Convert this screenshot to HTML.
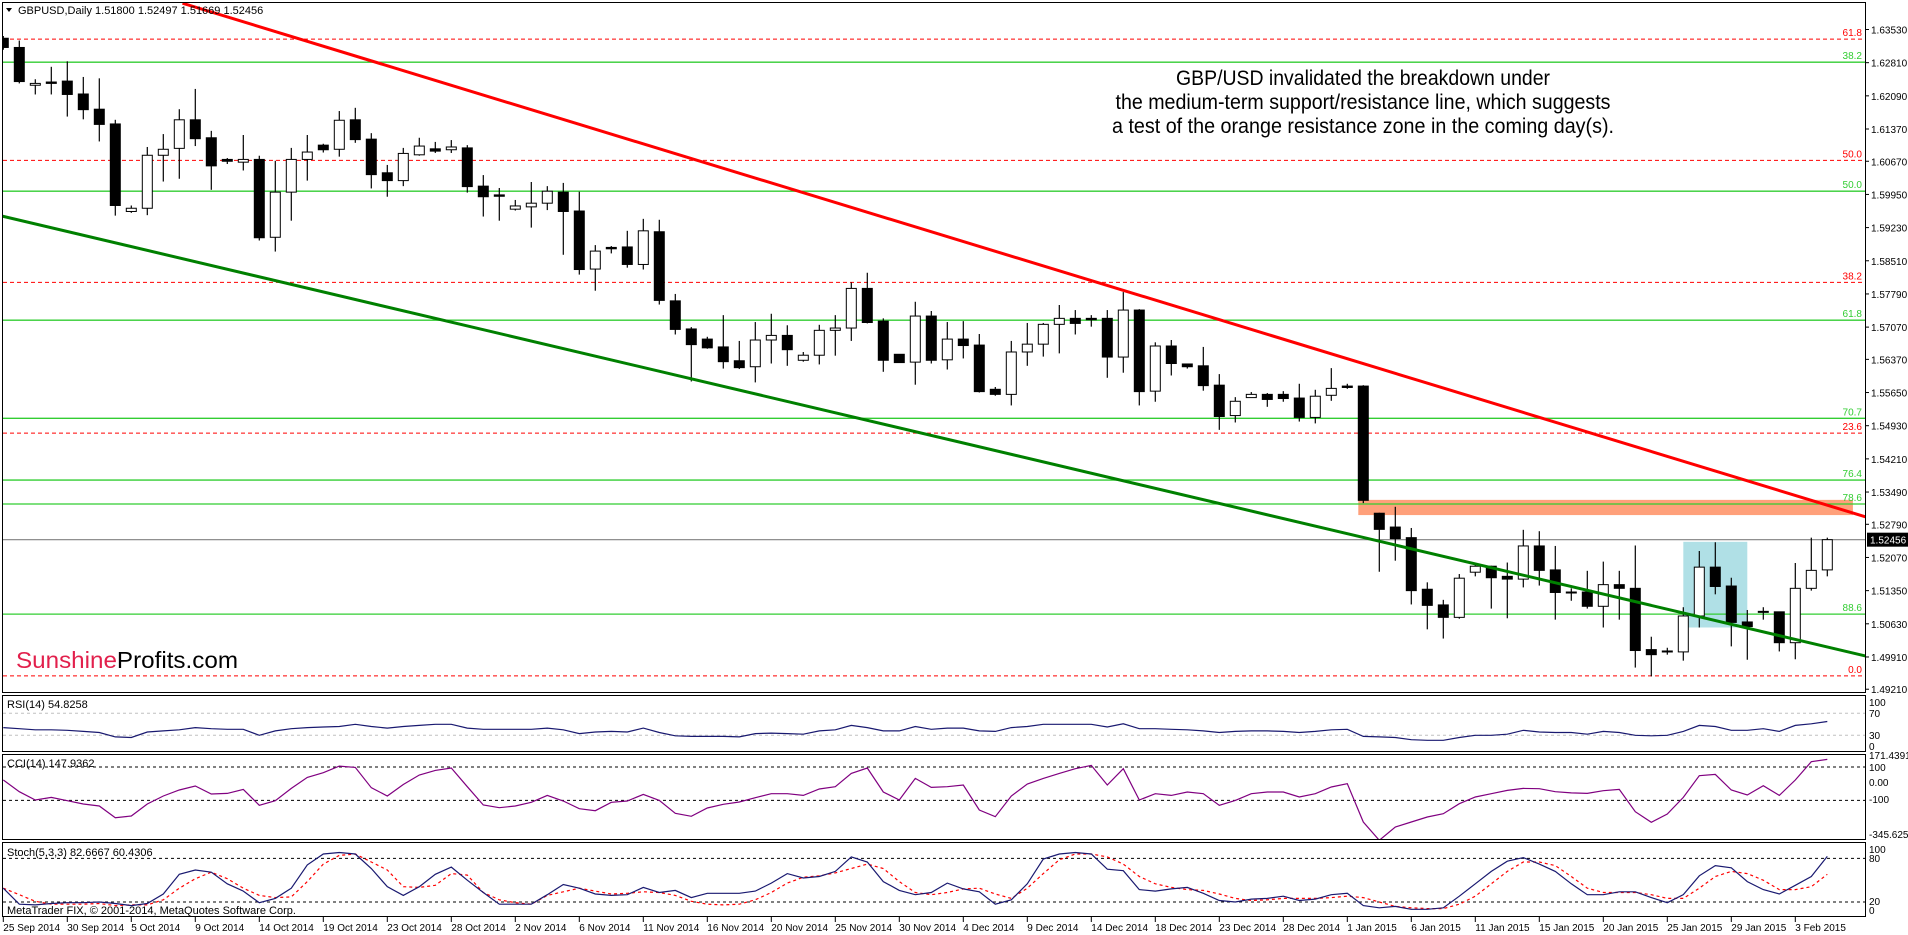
<!DOCTYPE html>
<html><head><meta charset="utf-8"><title>GBPUSD Daily</title>
<style>
html,body{margin:0;padding:0;background:#fff;}
svg{display:block;font-family:"Liberation Sans",Arial,sans-serif;}
</style></head>
<body>
<svg id="chart" xmlns="http://www.w3.org/2000/svg" width="1908" height="935" viewBox="0 0 1908 935">
<defs>
<clipPath id="mainClip"><rect x="3" y="3" width="1862" height="689"/></clipPath>
<clipPath id="rsiClip"><rect x="3" y="696" width="1862" height="55"/></clipPath>
<clipPath id="cciClip"><rect x="3" y="755" width="1862" height="84"/></clipPath>
<clipPath id="stoClip"><rect x="3" y="843" width="1862" height="73"/></clipPath>
</defs>
<rect x="0" y="0" width="1908" height="935" fill="#fff"/>
<g id="mainPanel"></g>
<g id="rsiPanel"></g>
<g id="cciPanel"></g>
<g id="stoPanel"></g>
<g id="axes"></g>
</svg>
<script>
// ---- data ----
const opens=[1.6334,1.6314,1.6232,1.6239,1.6241,1.6213,1.6180,1.6148,1.5958,1.5965,1.6080,1.6095,1.6157,1.6118,1.6071,1.6065,1.6071,1.5902,1.6000,1.6071,1.6102,1.6093,1.6157,1.6115,1.6042,1.6025,1.6081,1.6094,1.6092,1.6096,1.6013,1.5994,1.5963,1.5968,1.5976,1.6000,1.5959,1.5833,1.5880,1.5881,1.5843,1.5914,1.5764,1.5703,1.5681,1.5664,1.5634,1.5621,1.5679,1.5689,1.5635,1.5646,1.5700,1.5705,1.5791,1.5720,1.5648,1.5631,1.5731,1.5636,1.5681,1.5668,1.5572,1.5561,1.5653,1.5670,1.5713,1.5726,1.5726,1.5726,1.5642,1.5744,1.5568,1.5666,1.5627,1.5623,1.5581,1.5515,1.5554,1.5561,1.5561,1.5553,1.5511,1.5559,1.5579,1.5579,1.5303,1.5273,1.5250,1.5138,1.5104,1.5077,1.5175,1.5188,1.5166,1.5160,1.5232,1.5180,1.5132,1.5132,1.5101,1.5148,1.5140,1.5007,1.5004,1.5002,1.5080,1.5186,1.5145,1.5067,1.5090,1.5089,1.5022,1.5140,1.5180];
const highs=[1.6339,1.6329,1.6245,1.6272,1.6284,1.6250,1.6247,1.6157,1.5971,1.6098,1.6126,1.6180,1.6224,1.6133,1.6074,1.6124,1.6079,1.6068,1.6096,1.6124,1.6105,1.6176,1.6183,1.6128,1.6059,1.6096,1.6118,1.6109,1.6113,1.6102,1.6037,1.6009,1.5983,1.6022,1.6013,1.6020,1.6001,1.5885,1.5883,1.5916,1.5942,1.5940,1.5779,1.5707,1.5686,1.5733,1.5677,1.5718,1.5736,1.5711,1.5653,1.5712,1.5733,1.5804,1.5825,1.5726,1.5648,1.5762,1.5742,1.5718,1.5720,1.5692,1.5577,1.5677,1.5716,1.5716,1.5755,1.5744,1.5733,1.5744,1.5783,1.5746,1.5674,1.5679,1.5627,1.5664,1.5605,1.5555,1.5566,1.5564,1.5568,1.5584,1.5571,1.5618,1.5584,1.5581,1.5304,1.5317,1.5271,1.5153,1.5115,1.5171,1.5193,1.5189,1.5196,1.5267,1.5264,1.5232,1.5140,1.5178,1.5198,1.5178,1.5233,1.5035,1.5011,1.5099,1.5221,1.5240,1.5163,1.5093,1.5099,1.5089,1.5195,1.5250,1.5250];
const lows=[1.6309,1.6236,1.6212,1.6212,1.6164,1.6158,1.6110,1.5949,1.5955,1.5950,1.6023,1.6029,1.6100,1.6005,1.6061,1.6047,1.5895,1.5871,1.5938,1.6025,1.6086,1.6077,1.6107,1.6008,1.5990,1.6013,1.6079,1.6085,1.6085,1.5999,1.5947,1.5938,1.5960,1.5923,1.5961,1.5864,1.5821,1.5786,1.5867,1.5836,1.5832,1.5756,1.5691,1.5589,1.5660,1.5617,1.5616,1.5587,1.5628,1.5623,1.5632,1.5626,1.5645,1.5677,1.5715,1.5610,1.5630,1.5582,1.5628,1.5615,1.5639,1.5565,1.5558,1.5537,1.5623,1.5643,1.5650,1.5691,1.5708,1.5597,1.5608,1.5537,1.5545,1.5602,1.5617,1.5569,1.5484,1.5500,1.5554,1.5534,1.5545,1.5502,1.5498,1.5547,1.5573,1.5325,1.5176,1.5200,1.5105,1.5051,1.5031,1.5074,1.5166,1.5096,1.5075,1.5142,1.5146,1.5072,1.5113,1.5096,1.5055,1.5072,1.4968,1.4949,1.4996,1.4983,1.5055,1.5127,1.5014,1.4985,1.5072,1.5003,1.4986,1.5135,1.5166];
const closes=[1.6314,1.6240,1.6236,1.6236,1.6212,1.6179,1.6147,1.5971,1.5965,1.6080,1.6093,1.6157,1.6116,1.6057,1.6067,1.6071,1.5901,1.6000,1.6071,1.6087,1.6092,1.6156,1.6114,1.6038,1.6025,1.6084,1.6100,1.6089,1.6098,1.6012,1.5990,1.5991,1.5970,1.5976,1.6002,1.5958,1.5832,1.5872,1.5877,1.5843,1.5916,1.5765,1.5702,1.5669,1.5662,1.5632,1.5619,1.5679,1.5689,1.5658,1.5646,1.5700,1.5705,1.5791,1.5717,1.5635,1.5630,1.5731,1.5635,1.5681,1.5667,1.5567,1.5561,1.5653,1.5670,1.5713,1.5726,1.5715,1.5723,1.5642,1.5744,1.5567,1.5666,1.5628,1.5621,1.5580,1.5513,1.5546,1.5561,1.5550,1.5552,1.5511,1.5557,1.5574,1.5576,1.5331,1.5268,1.5248,1.5135,1.5103,1.5077,1.5162,1.5188,1.5163,1.5160,1.5232,1.5179,1.5131,1.5131,1.5101,1.5148,1.5140,1.5005,1.4996,1.5002,1.5080,1.5186,1.5144,1.5066,1.5057,1.5090,1.5022,1.5140,1.5179,1.52456];
const rsiValues=[44,42,40,40,39,37,35,27,26,36,38,40,44,42,41,41,30,38,42,44,45,46,50,46,43,46,48,50,50,43,41,41,41,41,43,40,33,36,37,36,43,35,29,28,28,28,27,33,34,33,32,38,40,48,44,38,38,46,41,43,43,38,37,44,46,50,50,50,50,45,51,42,42,41,40,38,35,37,38,38,37,35,37,40,41,28,27,26,22,21,21,26,30,30,32,39,36,35,35,32,37,35,30,29,30,37,48,46,39,39,42,37,48,51,55];
const cciValues=[22,-48,-98,-82,-102,-122,-134,-204,-194,-122,-74,-38,-14,-62,-58,-34,-130,-102,-28,38,66,106,98,-24,-74,-5,52,80,94,-18,-128,-144,-134,-112,-70,-104,-150,-162,-112,-104,-64,-100,-178,-196,-146,-124,-110,-84,-60,-60,-70,-32,-18,62,94,-50,-98,32,-22,-18,-8,-158,-198,-74,-2,32,62,90,110,-8,90,-98,-60,-70,-50,-60,-130,-100,-60,-50,-50,-80,-60,-20,0,-230,-340,-260,-230,-200,-180,-120,-80,-60,-40,-28,-30,-48,-55,-58,-42,-34,-168,-232,-182,-82,48,56,-38,-68,-12,-70,22,132,146];
const stochK=[39,17,16,18,19,19,20,18,15,18,31,58,64,61,45,35,19,25,39,71,86,88,86,66,41,29,41,58,68,50,33,17,17,17,30,44,39,31,29,30,40,33,36,26,32,32,32,35,46,59,53,55,62,82,75,48,36,30,33,46,38,34,17,23,45,79,86,88,86,65,63,37,35,38,40,32,22,20,24,25,28,22,24,30,32,15,12,14,10,10,12,28,45,62,76,81,72,62,45,30,30,34,34,26,19,30,56,70,67,48,37,31,43,55,82.7];
const stochD=[39,30,21,17,17,17,18,15,16,16,23,39,52,61,52,39,29,26,27,48,72,84,86,75,64,41,40,43,59,57,33,23,19,17,29,34,39,35,31,32,34,33,29,21,17,16,17,23,33,46,54,56,60,66,72,66,48,33,30,33,38,39,31,25,39,59,78,86,86,82,72,55,45,40,37,36,31,25,22,23,25,25,25,26,28,26,20,14,12,11,11,17,28,45,62,75,75,70,55,39,33,33,33,30,25,25,39,55,62,59,50,37,37,41,58];
const dateLabels=["25 Sep 2014","30 Sep 2014","5 Oct 2014","9 Oct 2014","14 Oct 2014","19 Oct 2014","23 Oct 2014","28 Oct 2014","2 Nov 2014","6 Nov 2014","11 Nov 2014","16 Nov 2014","20 Nov 2014","25 Nov 2014","30 Nov 2014","4 Dec 2014","9 Dec 2014","14 Dec 2014","18 Dec 2014","23 Dec 2014","28 Dec 2014","1 Jan 2015","6 Jan 2015","11 Jan 2015","15 Jan 2015","20 Jan 2015","25 Jan 2015","29 Jan 2015","3 Feb 2015"];
const priceTicks=[1.63530,1.62810,1.62090,1.61370,1.60670,1.59950,1.59230,1.58510,1.57790,1.57070,1.56370,1.55650,1.54930,1.54210,1.53490,1.52790,1.52070,1.51350,1.50630,1.49910,1.49210];
const fibRedLevels=[1.6332,1.6069,1.5804,1.5477,1.4950];
const fibRedLabels=["61.8","50.0","38.2","23.6","0.0"];
const fibGreenLevels=[1.6282,1.6002,1.5722,1.5509,1.5375,1.5323,1.5084];
const fibGreenLabels=["38.2","50.0","61.8","70.7","76.4","78.6","88.6"];
const resistanceLine=[[11.2,1.6410],[116.4,1.5295]];
const supportLine=[[-0.2,1.5949],[116.4,1.4993]];
const orangeZone=[1.5332,1.5299,85,115.6];
const blueBox=[1.5241,1.5055,105,109];
const lastPrice=1.52456;

// ---- scales ----
const xOf=i=>3.3+16*i;
const yOf=p=>29.5+(1.6353-p)*4607;
const yRsi=v=>735.3-(v-30)*0.55;
const yCci=v=>783.7-v*0.1665;
const ySto=v=>902-(v-20)*0.728;
const NS="http://www.w3.org/2000/svg";
function mk(tag,attrs,parent){const e=document.createElementNS(NS,tag);for(const k in attrs)e.setAttribute(k,attrs[k]);parent.appendChild(e);return e;}

const main=document.getElementById('mainPanel');
const mg=mk('g',{'clip-path':'url(#mainClip)'},main);

let z=mk('rect',{x:xOf(orangeZone[2])-5,y:yOf(orangeZone[0]),width:xOf(orangeZone[3])-xOf(orangeZone[2])+5,height:yOf(orangeZone[1])-yOf(orangeZone[0]),fill:'#FFA07A'},mg);


let bb=mk('rect',{x:xOf(blueBox[2]),y:yOf(blueBox[0]),width:xOf(blueBox[3])-xOf(blueBox[2]),height:yOf(blueBox[1])-yOf(blueBox[0]),fill:'#B0E0E6'},mg);



fibRedLevels.forEach((p,k)=>{
  const l=mk('line',{x1:3,x2:1865,y1:yOf(p),y2:yOf(p),stroke:'#FF0000','stroke-width':1,'stroke-dasharray':'4,3'},mg);
  
  
  const t=mk('text',{x:1862,y:yOf(p)-3,'text-anchor':'end','font-size':10,fill:'#FF0000'},mg);
  t.textContent=fibRedLabels[k];
  
  
});
fibGreenLevels.forEach((p,k)=>{
  const l=mk('line',{x1:3,x2:1865,y1:yOf(p),y2:yOf(p),stroke:'#32CD32','stroke-width':1.3},mg);
  
  
  const t=mk('text',{x:1862,y:yOf(p)-3,'text-anchor':'end','font-size':10,fill:'#32CD32'},mg);
  t.textContent=fibGreenLabels[k];
  
  
});
let cp=mk('line',{x1:3,x2:1865,y1:yOf(lastPrice),y2:yOf(lastPrice),stroke:'#808080','stroke-width':1.2},mg);



for(let i=0;i<opens.length;i++){
  const x=xOf(i),o=opens[i],c=closes[i];
  const g=mk('g',{},mg);
  
  
  mk('line',{x1:x,x2:x,y1:yOf(highs[i]),y2:yOf(lows[i]),stroke:'#000','stroke-width':1.2},g);
  const top=yOf(Math.max(o,c)),bot=yOf(Math.min(o,c));
  const h=Math.max(bot-top,1);
  mk('rect',{x:x-5,y:top,width:10,height:h,fill:c>=o?'#fff':'#000',stroke:'#000','stroke-width':1},g);
}

let rl=mk('line',{x1:xOf(resistanceLine[0][0]),y1:yOf(resistanceLine[0][1]),x2:xOf(resistanceLine[1][0]),y2:yOf(resistanceLine[1][1]),stroke:'#FF0000','stroke-width':3},mg);


let sl=mk('line',{x1:xOf(supportLine[0][0]),y1:yOf(supportLine[0][1]),x2:xOf(supportLine[1][0]),y2:yOf(supportLine[1][1]),stroke:'#008000','stroke-width':3},mg);



const ann=["GBP/USD invalidated the breakdown under","the medium-term support/resistance line, which suggests","a test of the orange resistance zone in the coming day(s)."];
const annY=[85,109,133], annW=[374,495,502];
ann.forEach((s,k)=>{
  const t=mk('text',{x:1363,y:annY[k],'text-anchor':'middle','font-size':21,fill:'#000',textLength:annW[k],lengthAdjust:'spacingAndGlyphs'},main);
  t.textContent=s;
  
  
});

let tri=mk('path',{d:'M6,8 L12,8 L9,12 Z',fill:'#000'},main);


let tt=mk('text',{x:18,y:14,'font-size':11,fill:'#000'},main);
tt.textContent='GBPUSD,Daily  1.51800 1.52497 1.51669 1.52456';


let logo=mk('text',{x:16,y:668,'font-size':23,textLength:222,lengthAdjust:'spacingAndGlyphs'},main);


const s1=mk('tspan',{fill:'#E2204C'},logo);s1.textContent='Sunshine';
const s2=mk('tspan',{fill:'#000'},logo);s2.textContent='Profits.com';

function polyline(vals,yf,parent,stroke,dash,name,clip){
  const g=mk('g',{'clip-path':clip},parent);
  const pts=vals.map((v,i)=>xOf(i).toFixed(1)+','+yf(v).toFixed(1)).join(' ');
  const p=mk('polyline',{points:pts,fill:'none',stroke:stroke,'stroke-width':1.2},g);
  if(dash)p.setAttribute('stroke-dasharray',dash);
  
  
}
function hline(y,parent,stroke,name){
  const l=mk('line',{x1:3,x2:1865,y1:y,y2:y,stroke:stroke,'stroke-width':1,'stroke-dasharray':'3,3'},parent);
  
  
}
function label(txt,x,y,parent,name,anchor,size){
  const t=mk('text',{x:x,y:y,'font-size':size||10,fill:'#000','text-anchor':anchor||'start'},parent);
  t.textContent=txt;
  
  
  return t;
}
const rsiP=document.getElementById('rsiPanel');
hline(yRsi(70),rsiP,'#C0C0C0','rsi-70-level');
hline(yRsi(30),rsiP,'#C0C0C0','rsi-30-level');
polyline(rsiValues,yRsi,rsiP,'#191970',null,'rsi-line','url(#rsiClip)');
label('RSI(14) 54.8258',7,708,rsiP,'rsi-title','start',11);

const cciP=document.getElementById('cciPanel');
hline(yCci(100),cciP,'#000','cci-100-level');
hline(yCci(-100),cciP,'#000','cci-minus100-level');
polyline(cciValues,yCci,cciP,'#800080',null,'cci-line','url(#cciClip)');
label('CCI(14) 147.9362',7,767,cciP,'cci-title','start',11);

const stoP=document.getElementById('stoPanel');
hline(ySto(80),stoP,'#000','stoch-80-level');
hline(ySto(20),stoP,'#000','stoch-20-level');
polyline(stochD,ySto,stoP,'#FF0000','3,3','stoch-signal-line','url(#stoClip)');
polyline(stochK,ySto,stoP,'#191970',null,'stoch-main-line','url(#stoClip)');
label('Stoch(5,3,3) 82.6667 60.4306',7,856,stoP,'stoch-title','start',11);
label('MetaTrader FIX, © 2001-2014, MetaQuotes Software Corp.',7,914,stoP,'copyright-note','start',11);

const ax=document.getElementById('axes');
[[2.5,2.5,1863,690,'price-panel-frame'],[2.5,695.5,1863,56,'rsi-panel-frame'],[2.5,754.5,1863,85,'cci-panel-frame'],[2.5,842.5,1863,74,'stoch-panel-frame']].forEach(r=>{
  const f=mk('rect',{x:r[0],y:r[1],width:r[2],height:r[3],fill:'none',stroke:'#000','stroke-width':1},ax);
  
  
});
priceTicks.forEach(p=>{
  const y=yOf(p);
  mk('line',{x1:1866,x2:1869,y1:y,y2:y,stroke:'#000'},ax);
  label(p.toFixed(5),1871,y+4,ax,'price-tick-label');
});
let pb=mk('rect',{x:1867,y:yOf(lastPrice)-7,width:41,height:14,fill:'#000'},ax);


let pbt=mk('text',{x:1870,y:yOf(lastPrice)+4,'font-size':10,fill:'#fff'},ax);
pbt.textContent=lastPrice.toFixed(5);


[['100',706],['70',717],['30',739],['0',750]].forEach(a=>label(a[0],1869,a[1],ax,'rsi-axis-label'));
[['171.4391',759],['100',771],['0.00',786],['-100',803],['-345.6252',838]].forEach(a=>label(a[0],1869,a[1],ax,'cci-axis-label'));
[['100',853],['80',862],['20',905],['0',914]].forEach(a=>label(a[0],1869,a[1],ax,'stoch-axis-label'));
dateLabels.forEach((d,k)=>{
  const x=xOf(4*k);
  mk('line',{x1:x,x2:x,y1:917,y2:922,stroke:'#000'},ax);
  label(d,x,931,ax,'date-tick-label');
});
</script>
</body></html>
